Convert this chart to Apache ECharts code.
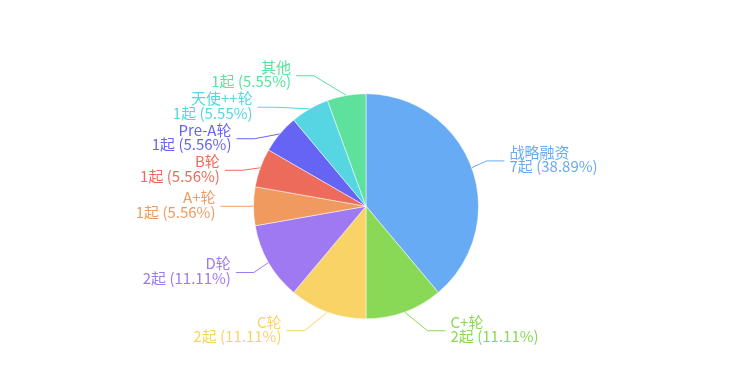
<!DOCTYPE html>
<html><head><meta charset="utf-8">
<script src="https://cdn.jsdelivr.net/npm/echarts@6/dist/echarts.min.js"></script>
<style>html,body{margin:0;padding:0;background:#fff}#c{width:732px;height:375px}</style>
</head><body><div id="c"></div>
<script>
const categories = ['战略融资','C+轮','C轮','D轮','A+轮','B轮','Pre-A轮','天使++轮','其他'];
const values = [7,2,2,2,1,1,1,1,1];
const colors = ['#67abf4','#8ad956','#f9d366','#9f79f1','#f19a5f','#ec6b5b','#6664f5','#56d5e3','#5de19d'];

const CENTER = [0.5, 0.55], RADIUS = 0.6, LEN = 20, LEN2 = 18, GAP = 5, TEXT_DY = -1.5;
const el = document.getElementById('c');
const chart = echarts.init(el);
const W = chart.getWidth(), H = chart.getHeight();
const cx = W * CENTER[0], cy = H * CENTER[1], r = RADIUS * Math.min(W, H) / 2;

// place label text on a circle of radius r+len+len2 (classic pie label layout)
function layoutLabel(p) {
  const pts = p.labelLinePoints;
  if (!pts || pts.length < 3) return {};
  const y = pts[2][1];
  const dir = pts[2][0] < cx ? -1 : 1;
  const dy = Math.abs(y - cy);
  const R3 = r + LEN + LEN2;
  const dX = dy < r + LEN ? Math.sqrt(R3 * R3 - dy * dy) : Math.abs(pts[2][0] - cx) + GAP;
  const tx = cx + dir * dX;
  const endX = tx - dir * GAP;
  const turnX = endX - dir * LEN2;
  return {
    x: tx, y: y + TEXT_DY, align: dir < 0 ? 'right' : 'left', verticalAlign: 'middle',
    labelLinePoints: [pts[0], [turnX, y], [endX, y]]
  };
}

chart.setOption({
  animation:false,
  color: colors,
  series:[{
    type:'pie',
    radius: (RADIUS * 100) + '%',
    center: [(CENTER[0] * 100) + '%', (CENTER[1] * 100) + '%'],
    startAngle:90,
    data: categories.map((n,i)=>({name:n,value:values[i],label:{color:colors[i]}})),
    itemStyle:{borderColor:'#fff',borderWidth:0.5},
    label:{
      formatter:'{b}\n{c}起 ({d}%)',
      fontSize:15,
      lineHeight:14.5,
      fontFamily:'"Noto Sans CJK SC", sans-serif'
    },
    labelLine:{length:LEN,length2:LEN2},
    labelLayout: layoutLabel
  }]
});
</script></body></html>
